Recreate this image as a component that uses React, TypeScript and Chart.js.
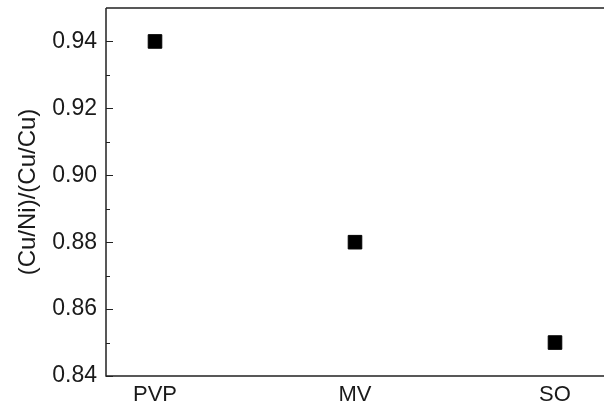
import React, { useEffect, useRef } from "react";
import { Chart, registerables } from "chart.js";

Chart.register(...registerables);

const categories = ["PVP", "MV", "SO"];
const ratioValues = [0.94, 0.88, 0.85];
const yTickValues = [0.84, 0.86, 0.88, 0.9, 0.92, 0.94];
const yMinorValues = [0.85, 0.87, 0.89, 0.91, 0.93];
const yTitle = "(Cu/Ni)/(Cu/Cu)";

const FONT = "'Liberation Sans', Arial, sans-serif";

const framePlugin = {
  id: "frameAndTicks",
  afterDraw(chart: any) {
    const { ctx, chartArea } = chart;
    const { left, right, top, bottom } = chartArea;
    const y = chart.scales.y;
    ctx.save();
    ctx.strokeStyle = "#222";
    ctx.lineWidth = 1.5;
    ctx.beginPath();
    ctx.moveTo(left, top);
    ctx.lineTo(right, top);
    ctx.moveTo(left, top);
    ctx.lineTo(left, bottom);
    ctx.lineTo(right, bottom);
    ctx.stroke();
    ctx.lineWidth = 1.2;
    ctx.beginPath();
    yTickValues.forEach((v) => {
      const py = Math.round(y.getPixelForValue(v)) + 0.5;
      ctx.moveTo(left, py);
      ctx.lineTo(left + 7, py);
    });
    yMinorValues.forEach((v) => {
      const py = Math.round(y.getPixelForValue(v)) + 0.5;
      ctx.moveTo(left, py);
      ctx.lineTo(left + 4, py);
    });
    ctx.stroke();
    ctx.restore();
  },
};

export default function App() {
  const canvasRef = useRef<HTMLCanvasElement | null>(null);

  useEffect(() => {
    if (!canvasRef.current) return;
    const chart = new Chart(canvasRef.current, {
      type: "scatter",
      data: {
        datasets: [
          {
            data: ratioValues.map((v, i) => ({ x: i, y: v })),
            pointStyle: "rect",
            pointRadius: 9.6,
            backgroundColor: "#000",
            borderColor: "#000",
            borderWidth: 1,
          },
        ],
      },
      options: {
        animation: false,
        responsive: false,
        maintainAspectRatio: false,
        layout: { autoPadding: false, padding: { top: 8, right: 0, left: 0, bottom: 0 } },
        plugins: {
          legend: { display: false },
          tooltip: { enabled: false },
        },
        scales: {
          x: {
            type: "linear",
            min: -0.245,
            max: 2.245,
            grid: { display: false, drawTicks: false },
            border: { display: false },
            afterBuildTicks: (scale: any) => {
              scale.ticks = categories.map((_, i) => ({ value: i }));
            },
            afterFit: (scale: any) => {
              scale.height = 29;
              scale.paddingLeft = 0;
              scale.paddingRight = 0;
            },
            ticks: {
              padding: 6,
              color: "#1a1a1a",
              font: { family: FONT, size: 22 },
              maxRotation: 0,
              autoSkip: false,
              callback: (v: any) => categories[v] ?? "",
            },
          },
          y: {
            min: 0.84,
            max: 0.95,
            grid: { display: false, drawTicks: false },
            border: { display: false },
            afterBuildTicks: (scale: any) => {
              scale.ticks = yTickValues.map((v) => ({ value: v }));
            },
            afterFit: (scale: any) => {
              scale.width = 106;
              scale.paddingTop = 0;
              scale.paddingBottom = 0;
            },
            ticks: {
              padding: 9,
              color: "#1a1a1a",
              font: { family: FONT, size: 23 },
              callback: (v: any) => Number(v).toFixed(2),
            },
            title: {
              display: true,
              text: yTitle,
              color: "#1a1a1a",
              font: { family: FONT, size: 24 },
              padding: { top: 14, bottom: 0 },
            },
          },
        },
      },
      plugins: [framePlugin],
    });
    return () => chart.destroy();
  }, []);

  return (
    <div style={{ position: "absolute", left: 0, top: 0, width: 604, height: 405, background: "#fff" }}>
      <canvas ref={canvasRef} width={604} height={405} style={{ width: 604, height: 405 }} />
    </div>
  );
}
